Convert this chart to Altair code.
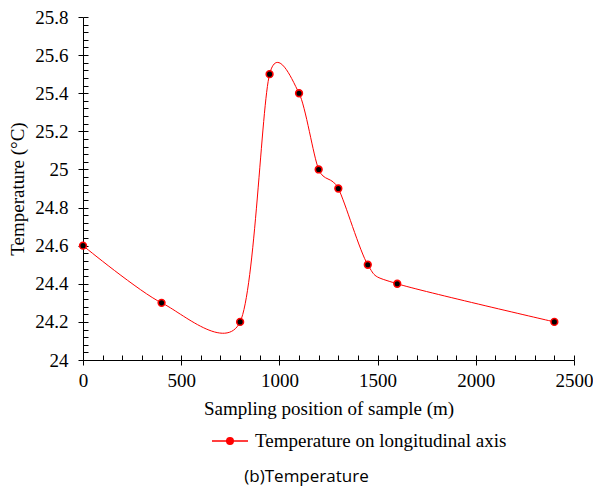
import altair as alt
import pandas as pd

positions = [0, 400, 800, 950, 1100, 1200, 1300, 1450, 1600, 2400]
temps = [24.6, 24.3, 24.2, 25.5, 25.4, 25.0, 24.9, 24.5, 24.4, 24.2]
series = ["Temperature on longitudinal axis"] * len(positions)

x_major = [0, 500, 1000, 1500, 2000, 2500]
x_minor = list(range(0, 2501, 100))
y_major = [24.0, 24.2, 24.4, 24.6, 24.8, 25.0, 25.2, 25.4, 25.6, 25.8]
y_minor = [round(24.0 + 0.04 * i, 2) for i in range(46)]

df = pd.DataFrame({"pos": positions, "temp": temps, "series": series})

SERIF = "Liberation Serif"
FS = 19

xs = alt.Scale(domain=[0, 2500], nice=False)
ys = alt.Scale(domain=[24, 25.8], nice=False, zero=False)

main_x = alt.X("pos:Q", scale=xs, title="Sampling position of sample (m)",
               axis=alt.Axis(values=x_major, format="d", grid=False, domainColor="black",
                             tickColor="black", tickSize=5, labelPadding=6, labelFont=SERIF,
                             labelFontSize=FS, labelColor="black", titleFont=SERIF,
                             titleFontSize=FS, titleFontWeight="normal", titleColor="black",
                             titlePadding=9, labelFlush=False))
main_y = alt.Y("temp:Q", scale=ys, title="Temperature (°C)",
               axis=alt.Axis(values=y_major, format=".1~f", grid=False, domainColor="black",
                             tickColor="black", tickSize=5, labelPadding=10, labelFont=SERIF,
                             labelFontSize=FS, labelColor="black", titleFont=SERIF,
                             titleFontSize=FS, titleFontWeight="normal", titleColor="black",
                             titlePadding=7))

sym = "M-1,0L1,0M-0.18,0A0.18,0.18 0 1,1 0.18,0A0.18,0.18 0 1,1 -0.18,0Z"

line = alt.Chart(df).mark_line(
    interpolate="cardinal", tension=0.2, strokeWidth=1,
    point=alt.OverlayMarkDef(filled=True, fill="black", stroke="#ff0000", strokeWidth=1.6,
                             size=45, opacity=1),
).encode(
    x=main_x, y=main_y,
    color=alt.Color("series:N", scale=alt.Scale(range=["#ff0000"]),
                    legend=alt.Legend(title=None, orient="none", legendX=128, legendY=405,
                                      symbolType=sym, symbolSize=1296, symbolStrokeWidth=1.5,
                                      symbolFillColor="black", symbolStrokeColor="#ff3b3b",
                                      labelFont=SERIF, labelFontSize=FS, labelColor="black",
                                      labelOffset=6, labelLimit=500))
)

ticks = alt.Chart(df).mark_point(opacity=0).encode(
    x=alt.X("pos:Q", scale=xs, title=None,
            axis=alt.Axis(orient="bottom", values=x_minor, labels=False, domain=False, grid=False,
                          tickColor="black", tickSize=5, offset=-5)),
    y=alt.Y("temp:Q", scale=ys, title=None,
            axis=alt.Axis(orient="left", values=y_minor, labels=False, domain=False, grid=False,
                          tickColor="black", tickSize=5, offset=-5)),
)

chart = alt.layer(line, ticks).resolve_scale(x="independent", y="independent").properties(
    width=491, height=343,
    padding={"left": 0, "top": 0, "right": 0, "bottom": 4},
    title=alt.Title("(b)Temperature", orient="bottom", font="Open Sans", fontSize=17,
                    fontWeight="normal", color="black", offset=18, anchor="middle", dx=-22),
).configure_view(stroke=None)

chart.save("out.html", embed_options={"renderer": "svg", "actions": False})
